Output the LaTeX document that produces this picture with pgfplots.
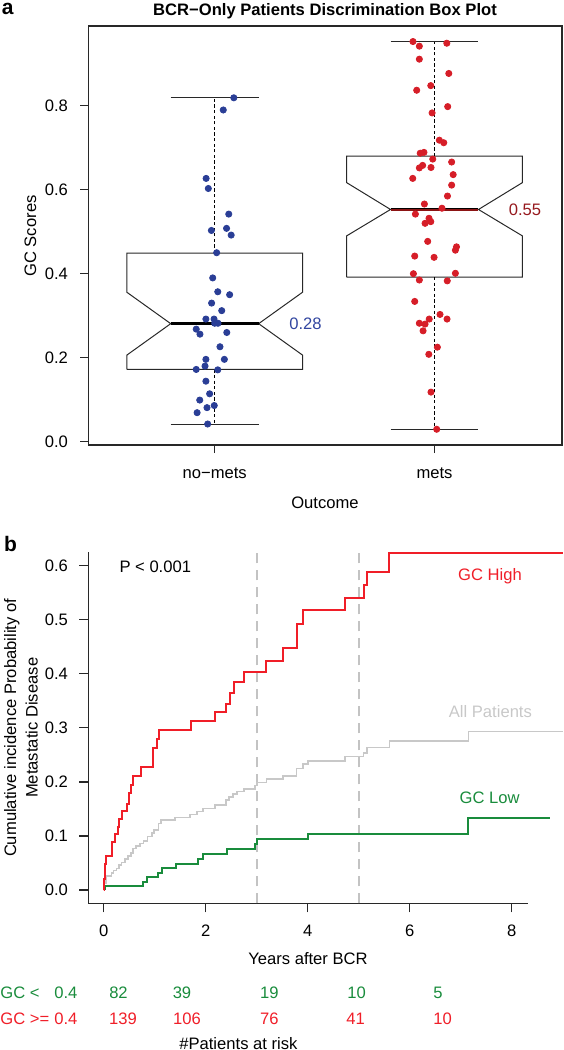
\documentclass[border=0pt]{standalone}
\usepackage{pgfplots}
\pgfplotsset{compat=1.18}
\usepackage{fontspec}
\setmainfont{Liberation Sans}
\definecolor{ptblue}{RGB}{42,62,150}
\definecolor{ptred}{RGB}{214,30,40}
\definecolor{txtblue}{RGB}{50,70,160}
\definecolor{txtdred}{RGB}{150,25,30}
\definecolor{medred}{RGB}{140,20,20}
\definecolor{kmred}{RGB}{240,30,40}
\definecolor{kmgray}{RGB}{200,200,200}
\definecolor{kmgreen}{RGB}{25,140,60}
\definecolor{dashgray}{RGB}{195,195,195}
\definecolor{axisgray}{RGB}{40,40,40}
\begin{document}
\begin{tikzpicture}[font=\fontsize{8.3}{10}\selectfont]
\useasboundingbox (0,0) rectangle (281.5pt,-525pt);
% ---------------- panel a ----------------
\begin{axis}[
  at={(44.15pt,-222.5pt)}, anchor=south west,
  scale only axis, width=236.85pt, height=209.5pt,
  xmin=0.425, xmax=2.58, ymin=-0.008, ymax=0.99,
  xtick={1,2}, ytick={0,0.2,0.4,0.6,0.8},
  xticklabels={}, yticklabels={},
  tick align=outside, tick pos=left, major tick length=4pt,
  tick style={line width=0.6pt, draw=axisgray},
  axis line style={line width=0.6pt, draw=axisgray},
  clip=false,
]
% no-mets box
\addplot[draw=axisgray, line width=0.5pt] coordinates {(0.6,0.172) (1.4,0.172) (1.4,0.206) (1.2,0.281) (1.4,0.356) (1.4,0.449) (0.6,0.449) (0.6,0.356) (0.8,0.281) (0.6,0.206) (0.6,0.172)};
\addplot[black, line width=0.5pt, dash pattern=on 1.6pt off 1.2pt] coordinates {(1,0.172) (1,0.042)};
\addplot[black, line width=0.5pt, dash pattern=on 1.6pt off 1.2pt] coordinates {(1,0.449) (1,0.819)};
\addplot[axisgray, line width=0.5pt] coordinates {(0.8,0.042) (1.2,0.042)};
\addplot[axisgray, line width=0.5pt] coordinates {(0.8,0.819) (1.2,0.819)};
\addplot[black, line width=1.5pt] coordinates {(0.8,0.281) (1.2,0.281)};
% mets box
\addplot[draw=axisgray, line width=0.5pt] coordinates {(1.6,0.392) (2.4,0.392) (2.4,0.490) (2.2,0.553) (2.4,0.617) (2.4,0.680) (1.6,0.680) (1.6,0.617) (1.8,0.553) (1.6,0.490) (1.6,0.392)};
\addplot[black, line width=0.5pt, dash pattern=on 1.6pt off 1.2pt] coordinates {(2,0.392) (2,0.0295)};
\addplot[black, line width=0.5pt, dash pattern=on 1.6pt off 1.2pt] coordinates {(2,0.680) (2,0.953)};
\addplot[axisgray, line width=0.5pt] coordinates {(1.8,0.0295) (2.2,0.0295)};
\addplot[axisgray, line width=0.5pt] coordinates {(1.8,0.953) (2.2,0.953)};
\addplot[black, line width=1.5pt] coordinates {(1.8,0.553) (2.2,0.553)};
\addplot[medred, line width=0.9pt] coordinates {(1.8,0.5515) (2.2,0.5515)};
% points
\addplot[only marks, mark=*, mark size=1.55pt, color=ptblue] table {
1.087 0.819
1.039 0.790
0.961 0.627
0.971 0.603
1.064 0.542
0.985 0.503
1.054 0.508
1.075 0.492
1.009 0.450
0.991 0.390
1.014 0.357
1.068 0.350
0.986 0.330
1.032 0.312
0.960 0.292
0.997 0.292
1.000 0.282
1.015 0.282
0.916 0.268
0.933 0.256
1.055 0.260
1.024 0.226
0.960 0.196
1.044 0.196
0.956 0.180
0.916 0.172
1.014 0.171
0.960 0.144
0.977 0.114
0.932 0.099
0.998 0.086
0.965 0.081
0.920 0.069
0.968 0.042
};
\addplot[only marks, mark=*, mark size=1.55pt, color=ptred] table {
1.902 0.953
2.056 0.949
1.931 0.942
1.931 0.911
2.065 0.877
1.919 0.837
1.983 0.848
2.060 0.798
1.989 0.783
2.022 0.718
2.042 0.712
1.935 0.687
1.952 0.689
1.992 0.673
2.078 0.666
1.931 0.652
1.946 0.658
1.984 0.653
2.085 0.636
1.901 0.627
2.078 0.611
2.059 0.585
1.954 0.566
2.034 0.556
1.913 0.542
1.975 0.532
1.983 0.524
1.957 0.520
1.969 0.477
2.100 0.464
2.095 0.456
1.910 0.442
1.998 0.439
1.904 0.400
2.095 0.401
1.931 0.385
2.058 0.383
1.910 0.334
2.025 0.303
1.976 0.292
2.057 0.292
1.931 0.282
1.957 0.280
1.948 0.264
2.013 0.225
1.974 0.208
1.984 0.118
2.010 0.0295
};
\node[anchor=west, inner sep=0pt, text=txtblue] at (axis cs:1.338,0.281) {0.28};
\node[anchor=west, inner sep=0pt, text=txtdred] at (axis cs:2.336,0.553) {0.55};
% tick labels
\node[anchor=east, inner sep=0pt, xshift=-10pt] at (axis cs:0.425,0.0) {0.0};
\node[anchor=east, inner sep=0pt, xshift=-10pt] at (axis cs:0.425,0.2) {0.2};
\node[anchor=east, inner sep=0pt, xshift=-10pt] at (axis cs:0.425,0.4) {0.4};
\node[anchor=east, inner sep=0pt, xshift=-10pt] at (axis cs:0.425,0.6) {0.6};
\node[anchor=east, inner sep=0pt, xshift=-10pt] at (axis cs:0.425,0.8) {0.8};
\node[anchor=base, inner sep=0pt, yshift=-16.65pt] at (axis cs:1,-0.008) {no−mets};
\node[anchor=base, inner sep=0pt, yshift=-16.65pt] at (axis cs:2,-0.008) {mets};
\end{axis}
\node[anchor=base west, inner sep=0pt, font=\fontsize{10.5}{12}\selectfont\bfseries] at (0.75pt,-7.2pt) {a};
\node[anchor=base, inner sep=0pt, font=\fontsize{8.3}{10}\selectfont\bfseries] at (162.5pt,-7.5pt) {BCR−Only Patients Discrimination Box Plot};
\node[anchor=base, inner sep=0pt, rotate=90] at (18pt,-118pt) {GC Scores};
\node[anchor=base, inner sep=0pt] at (162.5pt,-254.15pt) {Outcome};
% ---------------- panel b ----------------
\begin{axis}[
  at={(44.15pt,-451.65pt)}, anchor=south west,
  scale only axis, width=220.1pt, height=175.5pt,
  xmin=-0.304, xmax=8.327, ymin=-0.0246, ymax=0.6248,
  axis x line=bottom, axis y line=left,
  xtick={0,2,4,6,8}, ytick={0,0.1,0.2,0.3,0.4,0.5,0.6},
  xticklabels={}, yticklabels={},
  tick align=outside, major tick length=4.5pt,
  tick style={line width=0.6pt, draw=axisgray},
  axis line style={-, line width=0.6pt, draw=axisgray},
  clip=false,
]
\addplot[dashgray, line width=1pt, dash pattern=on 5pt off 3.5pt] coordinates {(3,-0.0246) (3,0.6248)};
\addplot[dashgray, line width=1pt, dash pattern=on 5pt off 3.5pt] coordinates {(5,-0.0246) (5,0.6248)};
\addplot[kmgray, line width=0.8pt, const plot] coordinates {
(0,0) (0.004,0.012) (0.043,0.026) (0.15,0.031) (0.19,0.036) (0.25,0.040) (0.30,0.046) (0.35,0.051) (0.42,0.057) (0.48,0.063) (0.53,0.069) (0.57,0.077) (0.63,0.081) (0.71,0.086) (0.78,0.091) (0.86,0.099) (0.94,0.105) (0.98,0.111) (1.07,0.123) (1.12,0.130) (1.40,0.134) (1.69,0.140) (1.83,0.145) (1.95,0.151) (2.18,0.157) (2.40,0.167) (2.46,0.172) (2.53,0.178) (2.61,0.182) (2.75,0.187) (2.96,0.193) (3.0,0.199) (3.19,0.205) (3.51,0.211) (3.78,0.225) (3.91,0.233) (4.0,0.239) (4.73,0.247) (5.09,0.254) (5.16,0.264) (5.60,0.276) (7.15,0.293) (9.0,0.293)};
\addplot[kmgreen, line width=1pt, const plot] coordinates {
(0.024,0) (0.024,0.0074) (0.76,0.0154) (0.84,0.0235) (1.07,0.032) (1.15,0.0407) (1.41,0.0487) (1.84,0.0574) (1.94,0.066) (2.42,0.075) (2.96,0.085) (3.0,0.094) (4.0,0.104) (7.15,0.133) (8.75,0.133)};
\addplot[kmred, line width=1pt, const plot] coordinates {
(0,0) (0.005,0.021) (0.02,0.036) (0.03,0.049) (0.04,0.063) (0.17,0.089) (0.22,0.104) (0.27,0.117) (0.30,0.131) (0.35,0.146) (0.45,0.160) (0.49,0.179) (0.53,0.194) (0.58,0.211) (0.72,0.228) (0.96,0.262) (1.04,0.279) (1.08,0.296) (1.70,0.313) (2.18,0.329) (2.39,0.345) (2.47,0.364) (2.55,0.385) (2.75,0.404) (3.19,0.424) (3.51,0.447) (3.78,0.493) (3.91,0.518) (4.72,0.541) (5.11,0.564) (5.16,0.588) (5.59,0.623) (9.0,0.623)};
% tick labels
\node[anchor=east, inner sep=0pt, xshift=-10pt] at (axis cs:-0.304,0.0) {0.0};
\node[anchor=east, inner sep=0pt, xshift=-10pt] at (axis cs:-0.304,0.1) {0.1};
\node[anchor=east, inner sep=0pt, xshift=-10pt] at (axis cs:-0.304,0.2) {0.2};
\node[anchor=east, inner sep=0pt, xshift=-10pt] at (axis cs:-0.304,0.3) {0.3};
\node[anchor=east, inner sep=0pt, xshift=-10pt] at (axis cs:-0.304,0.4) {0.4};
\node[anchor=east, inner sep=0pt, xshift=-10pt] at (axis cs:-0.304,0.5) {0.5};
\node[anchor=east, inner sep=0pt, xshift=-10pt] at (axis cs:-0.304,0.6) {0.6};
\node[anchor=base, inner sep=0pt, yshift=-16.35pt] at (axis cs:0,-0.0246) {0};
\node[anchor=base, inner sep=0pt, yshift=-16.35pt] at (axis cs:2,-0.0246) {2};
\node[anchor=base, inner sep=0pt, yshift=-16.35pt] at (axis cs:4,-0.0246) {4};
\node[anchor=base, inner sep=0pt, yshift=-16.35pt] at (axis cs:6,-0.0246) {6};
\node[anchor=base, inner sep=0pt, yshift=-16.35pt] at (axis cs:8,-0.0246) {8};
\end{axis}
\node[anchor=base west, inner sep=0pt, font=\fontsize{10.5}{12}\selectfont\bfseries] at (1.8pt,-275.8pt) {b};
\node[anchor=base, inner sep=0pt] at (77.65pt,-286.15pt) {P < 0.001};
\node[anchor=base, inner sep=0pt, text=kmred] at (245pt,-290.35pt) {GC High};
\node[anchor=base, inner sep=0pt, text=kmgray] at (245.2pt,-358.65pt) {All Patients};
\node[anchor=base, inner sep=0pt, text=kmgreen] at (244.8pt,-401.65pt) {GC Low};
\node[anchor=base, inner sep=0pt, rotate=90] at (8.1pt,-363.9pt) {Cumulative incidence Probability of};
\node[anchor=base, inner sep=0pt, rotate=90] at (18.85pt,-363.9pt) {Metastatic Disease};
\node[anchor=base, inner sep=0pt] at (154pt,-482.15pt) {Years after BCR};
% risk table
\node[anchor=base west, inner sep=0pt, text=kmgreen] at (0pt,-499.15pt) {GC <};
\node[anchor=base west, inner sep=0pt, text=kmgreen] at (27pt,-499.15pt) {0.4};
\node[anchor=base west, inner sep=0pt, text=kmred] at (0pt,-512pt) {GC >=};
\node[anchor=base west, inner sep=0pt, text=kmred] at (27pt,-512pt) {0.4};
\node[anchor=base, inner sep=0pt, text=kmgreen] at (59.25pt,-499.15pt) {82};
\node[anchor=base, inner sep=0pt, text=kmgreen] at (91pt,-499.15pt) {39};
\node[anchor=base, inner sep=0pt, text=kmgreen] at (134.65pt,-499.15pt) {19};
\node[anchor=base, inner sep=0pt, text=kmgreen] at (178.3pt,-499.15pt) {10};
\node[anchor=base, inner sep=0pt, text=kmgreen] at (219pt,-499.15pt) {5};
\node[anchor=base, inner sep=0pt, text=kmred] at (61.5pt,-512pt) {139};
\node[anchor=base, inner sep=0pt, text=kmred] at (93.5pt,-512pt) {106};
\node[anchor=base, inner sep=0pt, text=kmred] at (134.65pt,-512pt) {76};
\node[anchor=base, inner sep=0pt, text=kmred] at (177.75pt,-512pt) {41};
\node[anchor=base, inner sep=0pt, text=kmred] at (221.35pt,-512pt) {10};
\node[anchor=base, inner sep=0pt] at (119.2pt,-524.65pt) {\#Patients at risk};
\end{tikzpicture}
\end{document}
